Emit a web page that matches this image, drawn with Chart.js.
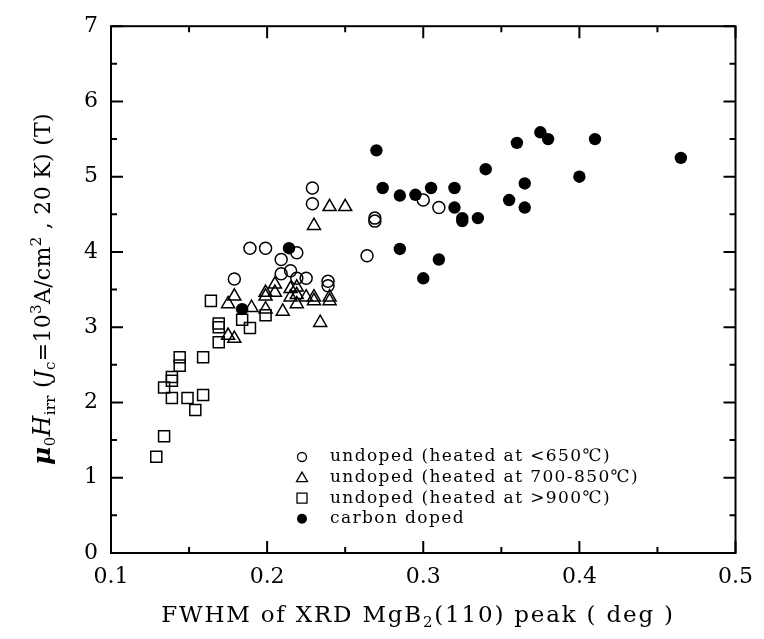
<!DOCTYPE html>
<html>
<head>
<meta charset="utf-8">
<script src="https://cdn.jsdelivr.net/npm/chart.js@4.4.0/dist/chart.umd.min.js"></script>
<style>
  html, body { margin: 0; padding: 0; background: #fff; }
  canvas { display: block; }
</style>
</head>
<body>
<canvas id="chart" width="764" height="639"></canvas>
<script>
"use strict";

// ---- data ----
// undoped, heated at <650 C (open circles)
const lowX = [0.179, 0.189, 0.199, 0.219, 0.209, 0.209, 0.215, 0.219, 0.225, 0.239, 0.239,
              0.229, 0.229, 0.264, 0.269, 0.269, 0.300, 0.310];
const lowY = [3.64, 4.05, 4.05, 3.99, 3.90, 3.71, 3.75, 3.65, 3.65, 3.61, 3.55,
              4.85, 4.64, 3.95, 4.45, 4.41, 4.69, 4.59];

// undoped, heated at 700-850 C (open triangles)
const midX = [0.240, 0.250, 0.230, 0.205, 0.199, 0.199, 0.205, 0.215, 0.215, 0.219, 0.219, 0.219,
              0.225, 0.230, 0.230, 0.240, 0.240, 0.234, 0.210, 0.199, 0.190, 0.179, 0.175, 0.175, 0.179];
const midY = [4.60, 4.60, 4.35, 3.57, 3.46, 3.41, 3.46, 3.51, 3.40, 3.53, 3.43, 3.31,
              3.40, 3.40, 3.35, 3.40, 3.35, 3.06, 3.21, 3.24, 3.26, 3.41, 3.31, 2.89, 2.85];

// undoped, heated at >900 C (open squares)
const highX = [0.164, 0.169, 0.169, 0.169, 0.184, 0.189, 0.199, 0.144, 0.144, 0.159,
               0.139, 0.139, 0.134, 0.139, 0.149, 0.159, 0.154, 0.134, 0.129];
const highY = [3.35, 3.05, 3.00, 2.80, 3.10, 2.99, 3.16, 2.60, 2.49, 2.60,
               2.34, 2.29, 2.20, 2.06, 2.06, 2.10, 1.90, 1.55, 1.28];

// carbon doped (filled circles)
const carbonX = [0.184, 0.214, 0.270, 0.274, 0.285, 0.295, 0.305, 0.320, 0.320, 0.325, 0.325,
                 0.335, 0.340, 0.285, 0.310, 0.300, 0.360, 0.375, 0.380, 0.410, 0.465,
                 0.400, 0.365, 0.355, 0.365];
const carbonY = [3.24, 4.05, 5.35, 4.85, 4.75, 4.76, 4.85, 4.85, 4.59, 4.45, 4.41,
                 4.45, 5.10, 4.04, 3.90, 3.65, 5.45, 5.59, 5.50, 5.50, 5.25,
                 5.00, 4.91, 4.69, 4.59];

const xTicks = [0.1, 0.2, 0.3, 0.4, 0.5];
const yTicks = [0, 1, 2, 3, 4, 5, 6, 7];
const legendLabels = [
  "undoped (heated at <650\u2103)",
  "undoped (heated at 700-850\u2103)",
  "undoped (heated at >900\u2103)",
  "carbon doped",
];

const SERIF = "'DejaVu Serif', 'Liberation Serif', serif";
const pts = (xs, ys) => xs.map((x, i) => ({ x, y: ys[i] }));

// ---- legend symbols ----
function symbol(ctx, kind, x, y) {
  ctx.beginPath();
  if (kind === "circle") {
    ctx.arc(x, y, 4.5, 0, Math.PI * 2);
    ctx.stroke();
  } else if (kind === "triangle") {
    ctx.moveTo(x, y - 5.5); ctx.lineTo(x + 5.5, y + 4); ctx.lineTo(x - 5.5, y + 4); ctx.closePath();
    ctx.stroke();
  } else if (kind === "rect") {
    ctx.rect(x - 5, y - 5, 10, 10);
    ctx.stroke();
  } else {
    ctx.arc(x, y, 5, 0, Math.PI * 2);
    ctx.fill();
  }
}

// text made of runs with their own font and baseline shift
function drawRuns(ctx, runs, x, y) {
  let w = 0;
  runs.forEach((r) => { ctx.font = r.font; w += ctx.measureText(r.t).width; });
  let cx = x - w / 2;
  runs.forEach((r) => {
    ctx.font = r.font;
    ctx.fillText(r.t, cx, y + (r.dy || 0));
    cx += ctx.measureText(r.t).width;
  });
}

const decor = {
  id: "decor",
  afterDraw(chart) {
    const { ctx, chartArea: a, scales: { x, y } } = chart;
    ctx.save();
    ctx.strokeStyle = "#000";
    ctx.fillStyle = "#000";

    // frame + inward ticks on all four sides
    ctx.lineWidth = 2;
    ctx.strokeRect(a.left, a.top, a.right - a.left, a.bottom - a.top);
    ctx.beginPath();
    for (let i = 0; i <= 8; i++) {
      const px = x.getPixelForValue(xTicks[0] + i * 0.05);
      const len = i % 2 ? 6 : 12;
      ctx.moveTo(px, a.bottom); ctx.lineTo(px, a.bottom - len);
      ctx.moveTo(px, a.top); ctx.lineTo(px, a.top + len);
    }
    for (let i = 0; i <= 14; i++) {
      const py = y.getPixelForValue(i * 0.5);
      const len = i % 2 ? 6 : 12;
      ctx.moveTo(a.left, py); ctx.lineTo(a.left + len, py);
      ctx.moveTo(a.right, py); ctx.lineTo(a.right - len, py);
    }
    ctx.stroke();

    // legend
    const kinds = ["circle", "triangle", "rect", "dot"];
    ctx.lineWidth = 1.3;
    ctx.textBaseline = "middle";
    ctx.textAlign = "left";
    ctx.font = "17px " + SERIF;
    ctx.letterSpacing = "1.4px";
    legendLabels.forEach((lab, i) => {
      const ly = 457 + i * 20.6;
      symbol(ctx, kinds[i], 302, ly);
      ctx.fillText(lab, 330, ly);
    });

    // x title
    ctx.textBaseline = "alphabetic";
    ctx.letterSpacing = "1.8px";
    const big = "23px " + SERIF, sub = "15px " + SERIF;
    drawRuns(ctx, [
      { t: "FWHM of XRD MgB", font: big },
      { t: "2", font: sub, dy: 5 },
      { t: "(110) peak ( deg )", font: big },
    ], 418, 622);

    // y title (rotated)
    ctx.translate(50, 289);
    ctx.rotate(-Math.PI / 2);
    ctx.letterSpacing = "0.3px";
    const it = "italic 24px " + SERIF, rm = "22px " + SERIF;
    drawRuns(ctx, [
      { t: "\u03bc", font: "bold italic 25px " + SERIF },
      { t: "0", font: sub, dy: 5 },
      { t: "H", font: it },
      { t: "irr", font: sub, dy: 5 },
      { t: " (", font: rm },
      { t: "J", font: "italic 22px " + SERIF },
      { t: "c", font: sub, dy: 5 },
      { t: "=10", font: rm },
      { t: "3", font: sub, dy: -9 },
      { t: "A/cm", font: rm },
      { t: "2", font: sub, dy: -9 },
      { t: " , 20 K) (T)", font: rm },
    ], 0, 0);
    ctx.restore();
  },
};

const openStyle = { backgroundColor: "rgba(0,0,0,0)", borderColor: "#000", pointBorderWidth: 1.5 };

new Chart(document.getElementById("chart"), {
  type: "scatter",
  data: {
    datasets: [
      { label: legendLabels[0], data: pts(lowX, lowY), pointStyle: "circle", pointRadius: 6, ...openStyle },
      { label: legendLabels[1], data: pts(midX, midY), pointStyle: "triangle", pointRadius: 7.5, ...openStyle },
      { label: legendLabels[2], data: pts(highX, highY), pointStyle: "rect", pointRadius: 7.8, ...openStyle },
      { label: legendLabels[3], data: pts(carbonX, carbonY), pointStyle: "circle", pointRadius: 6.2,
        backgroundColor: "#000", borderColor: "#000", pointBorderWidth: 0 },
    ],
  },
  options: {
    responsive: false,
    animation: false,
    events: [],
    layout: { padding: { left: 0, right: 20, top: 25, bottom: 0 } },
    plugins: { legend: { display: false }, tooltip: { enabled: false } },
    scales: {
      x: {
        type: "linear", min: xTicks[0], max: xTicks[xTicks.length - 1],
        afterFit: (s) => { s.height = 86; },
        afterBuildTicks: (s) => { s.ticks = xTicks.map((v) => ({ value: v })); },
        grid: { display: false, drawTicks: false },
        border: { display: false },
        ticks: { color: "#000", padding: 11, font: { family: SERIF, size: 22 },
                 callback: (v) => v.toFixed(1) },
      },
      y: {
        type: "linear", min: yTicks[0], max: yTicks[yTicks.length - 1],
        afterFit: (s) => { s.width = 111; },
        afterBuildTicks: (s) => { s.ticks = yTicks.map((v) => ({ value: v })); },
        grid: { display: false, drawTicks: false },
        border: { display: false },
        ticks: { color: "#000", padding: 13, font: { family: SERIF, size: 22 } },
      },
    },
  },
  plugins: [decor],
});
</script>
</body>
</html>
